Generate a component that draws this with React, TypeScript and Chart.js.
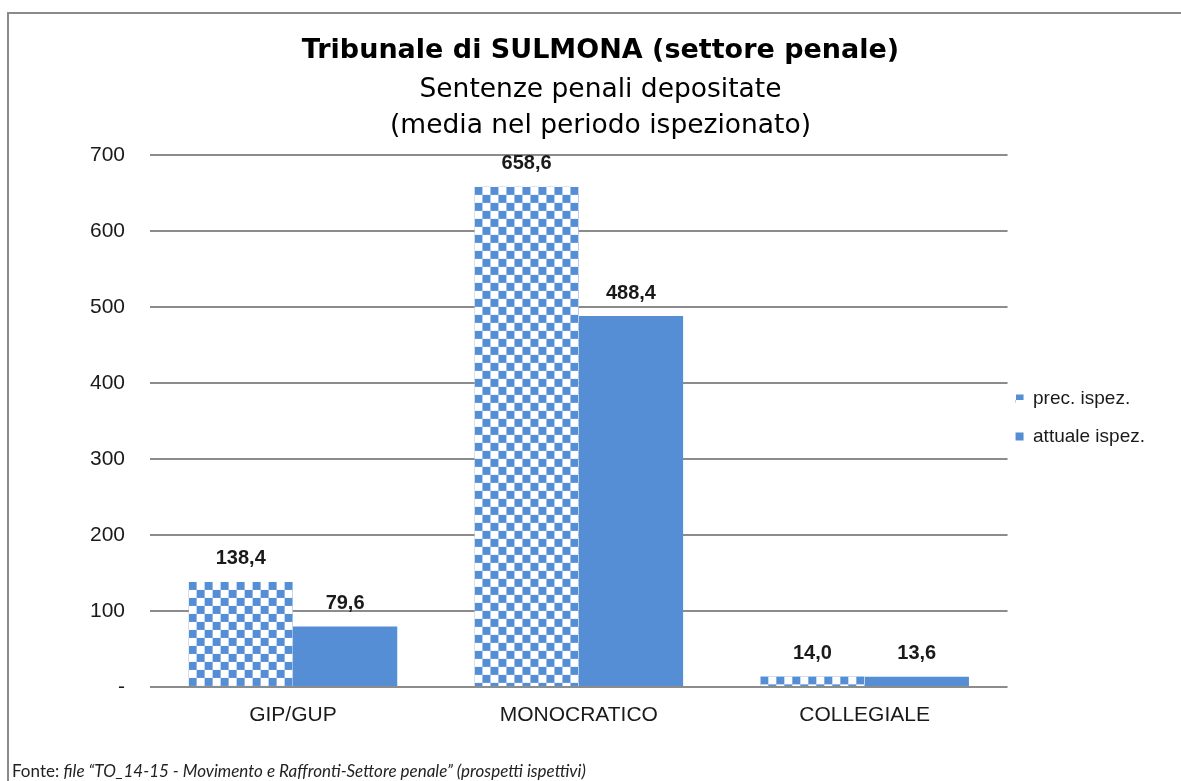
import React, { useEffect, useRef } from "react";
import { Chart, registerables } from "chart.js";

Chart.register(...registerables);

const categories = ["GIP/GUP", "MONOCRATICO", "COLLEGIALE"];
const seriesNames = ["prec. ispez.", "attuale ispez."];
const precIspez = [138.4, 658.6, 14.0];
const attualeIspez = [79.6, 488.4, 13.6];
const yMin = 0;
const yMax = 700;
const yStep = 100;
const titleText = "Tribunale di SULMONA (settore penale)";
const subtitleLines = ["Sentenze penali depositate", "(media nel periodo ispezionato)"];
const footerLabel = "Fonte: ";
const footerSource = "file \u201CTO_14-15 - Movimento e Raffronti-Settore penale\u201D (prospetti ispettivi)";

const BLUE = "#558ED5";
const GRID = "#8C8C8C";
const TEXT = "#1a1a1a";
const PAD_L = 35;
const PAD_R = 15;
const CELL = 8;

function makeChecker(cell: number): CanvasPattern | null {
  const c = document.createElement("canvas");
  c.width = cell * 2;
  c.height = cell * 2;
  const g = c.getContext("2d");
  if (!g) return null;
  g.fillStyle = "#ffffff";
  g.fillRect(0, 0, cell * 2, cell * 2);
  g.fillStyle = BLUE;
  g.fillRect(0, 0, cell, cell);
  g.fillRect(cell, cell, cell, cell);
  return g.createPattern(c, "repeat");
}

function fmt(v: number): string {
  return v.toFixed(1).replace(".", ",");
}

const dataLabels = {
  id: "dataLabels",
  afterDatasetsDraw(chart: any) {
    const ctx = chart.ctx;
    ctx.save();
    ctx.font = 'bold 20px "Liberation Sans", Arial, sans-serif';
    ctx.fillStyle = TEXT;
    ctx.textAlign = "center";
    ctx.textBaseline = "middle";
    chart.data.datasets.forEach((ds: any, di: number) => {
      const meta = chart.getDatasetMeta(di);
      meta.data.forEach((el: any, i: number) => {
        ctx.fillText(fmt(ds.data[i]), el.x, el.y - 23);
      });
    });
    ctx.restore();
  },
};

const legendShift = {
  id: "legendShift",
  afterLayout(chart: any) {
    const lg = chart.legend;
    if (!lg) return;
    lg.left -= 11;
    lg.right -= 11;
    lg.top += 27;
    lg.bottom += 27;
  },
};

export default function App() {
  const ref = useRef<HTMLCanvasElement | null>(null);

  useEffect(() => {
    if (!ref.current) return;
    const barPatterns = categories.map(() => makeChecker(CELL));
    const legendPattern = makeChecker(4);

    const alignPatterns = {
      id: "alignPatterns",
      beforeDatasetsDraw(chart: any) {
        const meta = chart.getDatasetMeta(0);
        meta.data.forEach((el: any, i: number) => {
          const p = barPatterns[i];
          if (!p || !(p as any).setTransform) return;
          const left = el.x - el.width / 2;
          p.setTransform(new DOMMatrix().translate(left, el.y));
        });
      },
      beforeDraw(chart: any) {
        const lg = chart.legend;
        if (legendPattern && (legendPattern as any).setTransform && lg && lg.legendHitBoxes && lg.legendHitBoxes[0]) {
          const hb = lg.legendHitBoxes[0];
          legendPattern.setTransform(new DOMMatrix().translate(hb.left + 2, hb.top + 2));
        }
      },
    };

    const chart = new Chart(ref.current, {
      type: "bar",
      data: {
        labels: categories,
        datasets: [
          {
            label: seriesNames[0],
            data: precIspez,
            backgroundColor: ((c: any) => {
              if (c && c.type === "data" && typeof c.dataIndex === "number") {
                return barPatterns[c.dataIndex] || BLUE;
              }
              return legendPattern || BLUE;
            }) as any,
            borderWidth: 0,
            categoryPercentage: 0.73,
            barPercentage: 1,
          },
          {
            label: seriesNames[1],
            data: attualeIspez,
            backgroundColor: BLUE,
            borderWidth: 0,
            categoryPercentage: 0.73,
            barPercentage: 1,
          },
        ],
      },
      options: {
        responsive: false,
        animation: false,
        layout: { padding: { left: PAD_L, right: PAD_R, top: 0, bottom: 0 } },
        plugins: {
          title: {
            display: true,
            text: titleText,
            color: "#000",
            font: { family: '"DejaVu Sans", sans-serif', size: 27, weight: "bold", lineHeight: 1.2 },
            padding: { top: 35, bottom: 0 },
          },
          subtitle: {
            display: true,
            text: subtitleLines,
            color: "#000",
            font: { family: '"DejaVu Sans", sans-serif', size: 26.5, weight: "normal", lineHeight: 36 / 26.5 },
            padding: { top: 5, bottom: 11 },
          },
          legend: {
            display: true,
            position: "right",
            align: "center",
            labels: {
              boxWidth: 8,
              boxHeight: 8,
              padding: 19,
              color: TEXT,
              font: { family: '"Liberation Sans", Arial, sans-serif', size: 19 },
            },
          },
          tooltip: { enabled: false },
        },
        scales: {
          x: {
            grid: { display: false, drawTicks: false },
            border: { display: false },
            ticks: {
              color: TEXT,
              padding: 16,
              font: { family: '"Liberation Sans", Arial, sans-serif', size: 21 },
            },
            afterFit: (s: any) => {
              s.height = 94;
            },
          },
          y: {
            min: yMin,
            max: yMax,
            grid: { color: GRID, lineWidth: 2, drawTicks: false },
            border: { display: false },
            ticks: {
              stepSize: yStep,
              color: TEXT,
              padding: 25,
              font: { family: '"Liberation Sans", Arial, sans-serif', size: 21 },
              callback: (v: any) => (Number(v) === 0 ? "-" : String(v)),
            },
            afterFit: (s: any) => {
              s.width = 150 - PAD_L;
            },
          },
        },
      },
      plugins: [dataLabels, legendShift, alignPatterns],
    });
    return () => chart.destroy();
  }, []);

  return (
    <div style={{ position: "fixed", left: 0, top: 0, width: 1181, height: 781, background: "#fff", overflow: "hidden" }}>
      <canvas ref={ref} width={1181} height={781} style={{ position: "absolute", left: 0, top: 0, width: 1181, height: 781 }} />
      <div
        style={{
          position: "absolute",
          left: 7,
          top: 12,
          width: 1200,
          height: 800,
          borderTop: "2px solid #8a8a8a",
          borderLeft: "2px solid #8a8a8a",
          pointerEvents: "none",
        }}
      />
      <div
        style={{
          position: "absolute",
          left: 12,
          top: 761,
          fontFamily: 'Lato, "Open Sans", sans-serif',
          fontSize: 17,
          color: "#222",
          whiteSpace: "nowrap",
          lineHeight: "20px",
        }}
      >
        {footerLabel}
        <i>{footerSource}</i>
      </div>
    </div>
  );
}
